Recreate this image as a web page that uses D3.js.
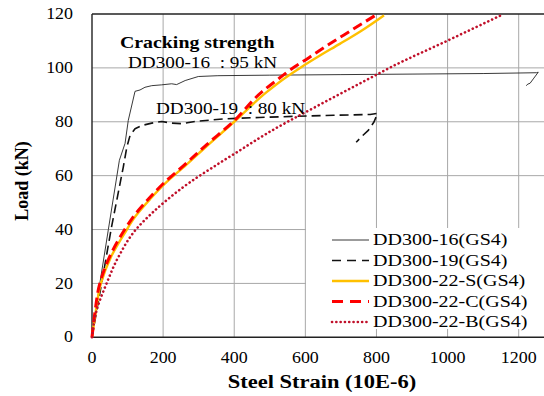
<!DOCTYPE html>
<html>
<head>
<meta charset="utf-8">
<script src="https://cdn.jsdelivr.net/npm/d3@7"></script>
<style>
  html, body { margin: 0; padding: 0; background: #fff; }
  text { font-family: "Liberation Serif", Tinos, "Nimbus Roman", "DejaVu Serif", "Noto Serif", serif; white-space: pre; }
</style>
</head>
<body>
<svg id="chart" width="544" height="396"></svg>
<script>
// Load–strain curves of the steel reinforcement (strain in 10E-6, load in kN)
const s16Strain = [0, 10, 22, 46, 77, 93, 102, 121, 135, 149, 168, 196, 224, 238, 262, 299, 354, 500, 700, 900, 1100, 1250, 1255, 1241, 1232, 1226, 1221];
const s16Load   = [0, 9, 20, 40, 65.7, 72, 80.5, 91.3, 91.8, 92.8, 93.4, 93.7, 94.1, 93.8, 95.3, 96.8, 97.1, 97.3, 97.5, 97.7, 97.9, 98.2, 98.4, 95.9, 94.3, 94.0, 93.4];

const s19Strain = [0, 12, 27, 55, 88, 98, 107, 121, 140, 168, 196, 224, 252, 290, 337, 374, 470, 566, 680, 782, 803, 793, 777, 759, 743];
const s19Load   = [0, 9, 20, 41, 63.2, 70.6, 74.9, 77.4, 78.6, 79.5, 80.1, 79.5, 79.3, 80.1, 80.7, 81.1, 81.6, 82.0, 82.4, 82.7, 83.1, 79.9, 76.8, 74.6, 72.4];

const s22SStrain = [0, 10, 25, 54, 98, 117, 165, 205, 265, 323, 400, 491, 540, 585, 640, 698, 760, 821];
const s22SLoad   = [0, 9, 20, 30, 40, 44, 51.5, 57, 64, 71, 80, 91, 96, 100, 104.5, 109, 114, 119.5];

const s22CStrain = [0, 8, 22, 50, 92, 112, 160, 200, 260, 318, 397, 477, 520, 560, 610, 660, 730, 803];
const s22CLoad   = [0, 9, 20, 30, 40, 44, 51.5, 57, 64, 71, 80, 91, 95.5, 99.5, 103.8, 108.2, 114, 120];

const s22BStrain = [0, 13, 41, 75, 126, 168, 210, 275, 341, 416, 491, 557, 650, 730, 796, 838, 998, 1150];
const s22BLoad   = [0, 10, 20, 30, 40.4, 46, 50.9, 57.5, 63.2, 69.4, 75.6, 80.5, 87, 92.6, 97.2, 100.1, 110, 119.5];

const seriesNames = ["DD300-16(GS4)", "DD300-19(GS4)", "DD300-22-S(GS4)", "DD300-22-C(GS4)", "DD300-22-B(GS4)"];
const xTicks = [0, 200, 400, 600, 800, 1000, 1200];
const yTicks = [0, 20, 40, 60, 80, 100, 120];
const annoTitle = "Cracking strength";
const anno16 = "DD300-16  : 95 kN";
const anno19 = "DD300-19  : 80 kN";

const styles = [
  { color: "#222", width: 0.9, dash: null, cap: "butt" },
  { color: "#111", width: 1.6, dash: "9,5", cap: "butt" },
  { color: "#FFC000", width: 2.4, dash: null, cap: "butt" },
  { color: "#FF0000", width: 3, dash: "10,5", cap: "butt" },
  { color: "#C0102A", width: 2.6, dash: "0.1,4.2", cap: "round" }
];

const series = [
  d3.zip(s16Strain, s16Load),
  d3.zip(s19Strain, s19Load),
  d3.zip(s22SStrain, s22SLoad),
  d3.zip(s22CStrain, s22CLoad),
  d3.zip(s22BStrain, s22BLoad)
];

const svg = d3.select("#chart");
const plotLeft = 92, plotTop = 14, plotBottom = 337.3, plotRight = 544;

const x = d3.scaleLinear().domain([0, 1200]).range([plotLeft, 518.7]);
const y = d3.scaleLinear().domain([0, 120]).range([plotBottom, plotTop]);

// stretched serif text helper
function label(g, tx, ty, str, opts) {
  const o = Object.assign({ size: 16, sx: 1.2, anchor: "start", weight: "normal", base: "auto" }, opts || {});
  return g.append("text")
    .attr("transform", `translate(${tx},${ty}) scale(${o.sx},1)`)
    .attr("font-size", o.size)
    .attr("font-weight", o.weight)
    .attr("text-anchor", o.anchor)
    .attr("dominant-baseline", o.base)
    .attr("fill", "#000")
    .text(str);
}

// grid
const grid = svg.append("g").attr("stroke", "#a8a8a8").attr("stroke-width", 1);
grid.selectAll("line.h").data(yTicks.slice(1, -1)).join("line")
  .attr("x1", plotLeft).attr("x2", plotRight)
  .attr("y1", d => y(d)).attr("y2", d => y(d));
grid.selectAll("line.v").data(xTicks.slice(1)).join("line")
  .attr("x1", d => x(d)).attr("x2", d => x(d))
  .attr("y1", plotTop).attr("y2", plotBottom);

// legend backdrop hides the grid behind it
svg.append("rect").attr("x", 306).attr("y", 228).attr("width", 238).attr("height", 101).attr("fill", "#fff");

// frame
const frame = svg.append("g").attr("stroke", "#222").attr("stroke-width", 1.4);
frame.append("line").attr("x1", plotLeft).attr("x2", plotLeft).attr("y1", plotTop).attr("y2", plotBottom);
frame.append("line").attr("x1", plotLeft).attr("x2", plotRight).attr("y1", plotBottom).attr("y2", plotBottom);
frame.append("line").attr("x1", plotLeft).attr("x2", plotRight).attr("y1", plotTop).attr("y2", plotTop);

// curves
const straight = d3.line().x(d => x(d[0])).y(d => y(d[1])).curve(d3.curveLinear);
const smooth = d3.line().x(d => x(d[0])).y(d => y(d[1])).curve(d3.curveMonotoneY);
const curves = svg.append("g").attr("fill", "none");
series.forEach((pts, i) => {
  const st = styles[i];
  curves.append("path")
    .attr("d", (i < 2 ? straight : smooth)(pts))
    .attr("stroke", st.color)
    .attr("stroke-width", st.width)
    .attr("stroke-dasharray", st.dash)
    .attr("stroke-linecap", st.cap)
    .attr("stroke-linejoin", "round");
});

// ticks
const tg = svg.append("g");
yTicks.forEach(v => label(tg, 73, y(v), String(v), { anchor: "end", base: "central", sx: 1.12 }));
xTicks.forEach(v => label(tg, x(v), 358, String(v), { anchor: "middle", base: "central", sx: 1.12 }));

// axis titles
label(svg, 322, 388, "Steel Strain (10E-6)", { size: 18, weight: "bold", anchor: "middle", sx: 1.25 });
svg.append("text")
  .attr("transform", "translate(28,181) rotate(-90)")
  .attr("font-size", 18).attr("font-weight", "bold").attr("text-anchor", "middle")
  .attr("fill", "#000")
  .text("Load (kN)");

// annotations
label(svg, 120, 48, annoTitle, { weight: "bold", sx: 1.24 });
label(svg, 128, 68, anno16, { sx: 1.2 });
label(svg, 156, 114, anno19, { sx: 1.2 });

// legend
const lg = svg.append("g");
seriesNames.forEach((name, i) => {
  const yy = 240 + i * 20.5;
  const st = styles[i];
  lg.append("line")
    .attr("x1", 332).attr("x2", 369).attr("y1", yy).attr("y2", yy)
    .attr("stroke", st.color).attr("stroke-width", st.width)
    .attr("stroke-dasharray", i === 1 ? "9,6" : i === 3 ? "11,7" : st.dash)
    .attr("stroke-linecap", st.cap);
  label(lg, 373, yy, name, { size: 16, base: "central", sx: 1.25 });
});
</script>
</body>
</html>
